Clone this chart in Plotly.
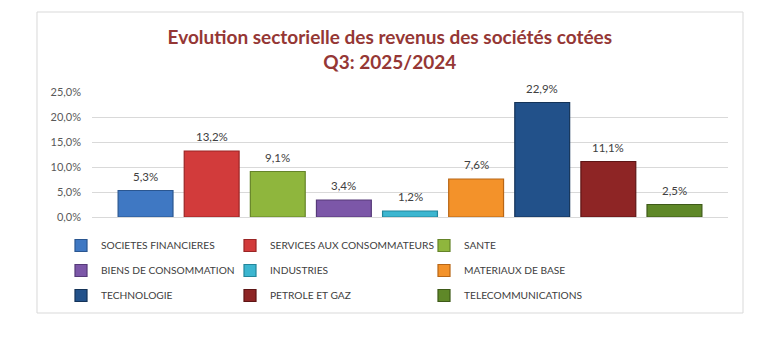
import plotly.graph_objects as go

# Sector revenue growth, Q3 2025 vs Q3 2024 (%)
sectors = [
    "SOCIETES FINANCIERES",
    "SERVICES AUX CONSOMMATEURS",
    "SANTE",
    "BIENS DE CONSOMMATION",
    "INDUSTRIES",
    "MATERIAUX DE BASE",
    "TECHNOLOGIE",
    "PETROLE ET GAZ",
    "TELECOMMUNICATIONS",
]
growth = [5.3, 13.2, 9.1, 3.4, 1.2, 7.6, 22.9, 11.1, 2.5]
fill_colors = [
    "#3F78C3", "#D23B3B", "#8FB63D", "#7C57A8", "#3CB6D0",
    "#F3922A", "#22518A", "#8E2525", "#5F8828",
]
edge_colors = [
    "#2A5690", "#9A2525", "#658429", "#563A79", "#23869B",
    "#B86616", "#143358", "#5E1515", "#3E5A18",
]
y_ticks = [0, 5, 10, 15, 20, 25]


def fr_pct(v):
    return f"{v:.1f}".replace(".", ",") + "%"


TEXT = "#404040"
FONT = "Lato, 'Open Sans', sans-serif"

# legend laid out as three columns (entries fill row by row)
legend_ids = ["legend", "legend2", "legend3"]

fig = go.Figure()
for i, (name, val, fc, ec) in enumerate(zip(sectors, growth, fill_colors, edge_colors)):
    fig.add_trace(go.Bar(
        x=[name], y=[val], name=name,
        marker=dict(color=fc, line=dict(color=ec, width=1.2)),
        legend=legend_ids[i % 3], legendgroup=name,
    ))

# value labels above each bar
annotations = [
    dict(x=name, y=val, xref="x", yref="y", text=fr_pct(val),
         showarrow=False, yanchor="bottom", yshift=6,
         font=dict(size=11.5, color=TEXT, family=FONT))
    for name, val in zip(sectors, growth)
]

# plot area spans 92..728 px horizontally, 92..217 px vertically
def px_x(p):
    return (p - 92) / 636


def px_y(p):
    return (217 - p) / 125


legend_common = dict(
    orientation="v", xanchor="left", yanchor="top", y=px_y(231),
    font=dict(size=10.2, color=TEXT, family=FONT),
    itemwidth=30, traceorder="grouped", tracegroupgap=6,
    bgcolor="rgba(0,0,0,0)",
)
col_text_px = [101, 270, 464]

fig.update_layout(
    width=775, height=342,
    margin=dict(l=92, r=47, t=92, b=125),
    paper_bgcolor="white", plot_bgcolor="white",
    font=dict(family=FONT, color=TEXT, size=11),
    title=dict(
        text="Evolution sectorielle des revenus des sociétés cotées<br>Q3: 2025/2024",
        x=0.503, xanchor="center", y=0.87, yanchor="top",
        font=dict(family=FONT, size=19, color="#953735", weight="bold"),
    ),
    barmode="overlay", bargap=0.17,
    showlegend=True,
    legend=dict(legend_common, x=px_x(col_text_px[0] - 40)),
    legend2=dict(legend_common, x=px_x(col_text_px[1] - 40)),
    legend3=dict(legend_common, x=px_x(col_text_px[2] - 40)),
    annotations=annotations,
    shapes=[dict(
        type="rect", xref="paper", yref="paper",
        x0=-0.0865, x1=1.0236, y0=-0.768, y1=1.64,
        line=dict(color="#D9D9D9", width=1), fillcolor="rgba(0,0,0,0)",
        layer="below",
    )],
)
fig.update_xaxes(
    type="category", categoryorder="array", categoryarray=sectors,
    range=[-0.81, 8.81], showticklabels=False, showgrid=False,
    zeroline=False, showline=False,
)
fig.update_yaxes(
    range=[0, 25], tickmode="array", tickvals=y_ticks,
    ticktext=[fr_pct(v) for v in y_ticks],
    showgrid=True, gridcolor="#D9D9D9", gridwidth=1,
    zeroline=True, zerolinecolor="#D9D9D9", zerolinewidth=1,
    showline=False, ticklabelstandoff=10,
    tickfont=dict(size=11, color="#595959", family=FONT),
)

fig.write_html("out.html")
